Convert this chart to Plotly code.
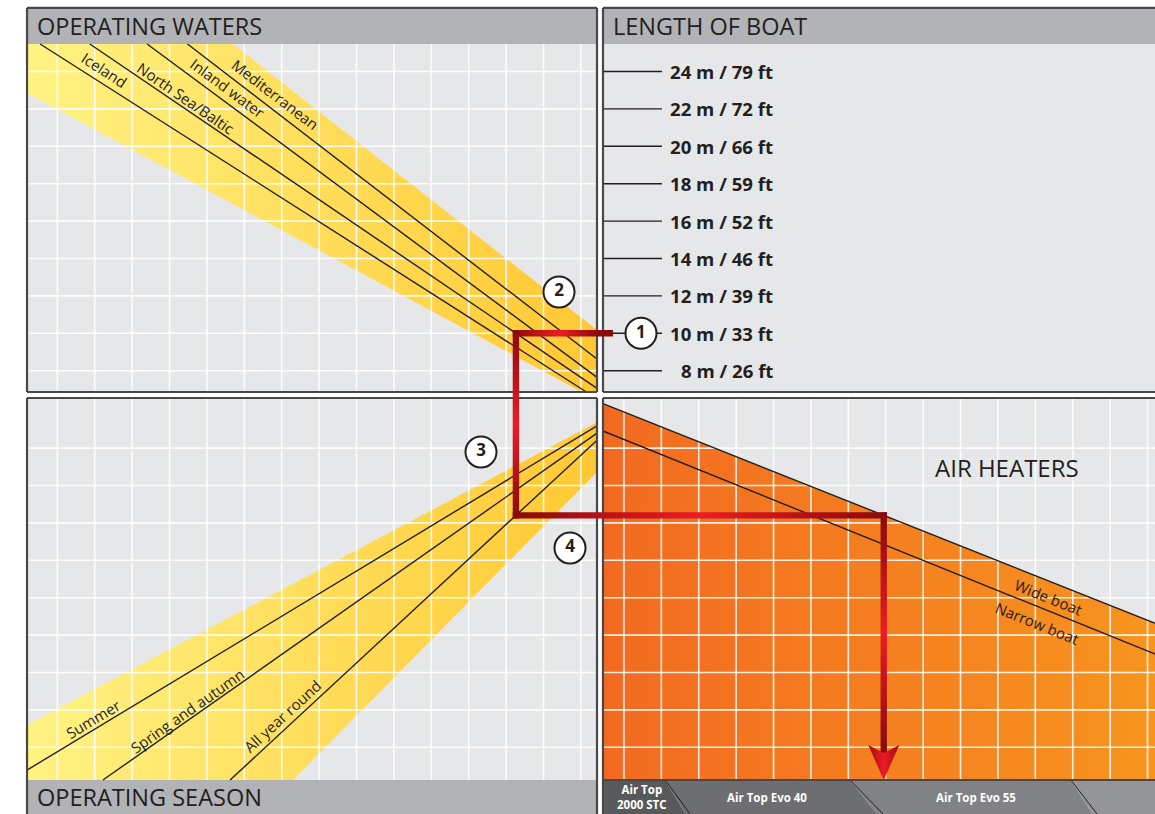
import plotly.graph_objects as go

# ---------------- data (in grid-cell units) ----------------
boat_length_m = [24, 22, 20, 18, 16, 14, 12, 10, 8]
boat_length_ft = [79, 72, 66, 59, 52, 46, 39, 33, 26]

water_names = ["Iceland", "North Sea/Baltic", "Inland water", "Mediterranean"]
water_top_x = [-14.97, -13.64, -12.11, -11.03]      # where each line leaves the top of the panel
water_slope = [-0.637, -0.679, -0.741, -0.769]

water_band_anchor_x = [-9.81, -15.32]               # upper edge, lower edge of the yellow band
water_band_anchor_y = [9.385, 8.075]
water_band_slope = [-0.786, -0.539]

season_names = ["Summer", "Spring and autumn", "All year round"]
season_bottom_x = [-15.76, -13.29, -9.89]           # where each line meets the bottom of the panel
season_slope = [0.604, 0.702, 0.926]

season_band_anchor_x = [-15.32, -8.21]
season_band_anchor_y = [-8.824, -10.294]
season_band_slope = [0.531, 1.013]

boat_type_names = ["Wide boat", "Narrow boat"]
boat_type_left_y = [-0.23, -0.963]
boat_type_slope = [-0.398, -0.404]

heater_names = ["Air Top<br>2000 STC", "Air Top Evo 40", "Air Top Evo 55", ""]
heater_edge_top = [1.74, 6.68, 12.59]
heater_edge_bottom = [2.41, 7.57, 13.29]

example_length = 10
example_water = "North Sea/Baltic"
example_season = "All year round"
example_boat = "Wide boat"

# ---------------- layout geometry / styles ----------------
PX = 37.4
XL0, XL1 = -15.32, -0.08
XR0, XR1 = 0.08, 15.3
YT, YH, YU0 = 10.35, 9.385, 0.08
YD0, YD1, YB = -0.08, -10.294, -11.5
X_RANGE = [-600 / PX, 555 / PX]
Y_RANGE = [-419 / PX, 395 / PX]

INK = "#231F20"
BORDER = "#48484A"
PANEL = "#E6E7E8"
HEADER = "#B1B3B6"
DARK_RED = "#870A0D"
BRIGHT_RED = "#EC1C24"
FONT = "Open Sans"
HEATER_LABEL_SHIFT = [2, -5, 1]   # px


def length_to_y(m):
    return 0.65 + (m - 8) / 2


def rect(x0, x1, y0, y1):
    return [(x0, y0), (x1, y0), (x1, y1), (x0, y1)]


def clip_half(poly, x0, y0, m, below):
    def f(p):
        v = y0 + m * (p[0] - x0) - p[1]
        return v if below else -v
    out = []
    n = len(poly)
    for i in range(n):
        P, Q = poly[i], poly[(i + 1) % n]
        fp, fq = f(P), f(Q)
        if fp >= 0:
            out.append(P)
        if (fp >= 0) != (fq >= 0):
            t = fp / (fp - fq)
            out.append((P[0] + t * (Q[0] - P[0]), P[1] + t * (Q[1] - P[1])))
    return out


def clip_line(x0, y0, m, xa, xb, ya, yb):
    pts = []
    for x in (xa, xb):
        y = y0 + m * (x - x0)
        if ya - 1e-9 <= y <= yb + 1e-9:
            pts.append((x, y))
    for y in (ya, yb):
        x = x0 + (y - y0) / m
        if xa - 1e-9 <= x <= xb + 1e-9:
            pts.append((x, y))
    pts.sort()
    return pts[0], pts[-1]


def poly_trace(poly, **kw):
    xs = [p[0] for p in poly] + [poly[0][0]]
    ys = [p[1] for p in poly] + [poly[0][1]]
    return go.Scatter(x=xs, y=ys, mode="lines", fill="toself", line=dict(width=0),
                      hoverinfo="skip", showlegend=False, **kw)


def seg_trace(segs, color, width, dash=None):
    xs, ys = [], []
    for (a, b) in segs:
        xs += [a[0], b[0], None]
        ys += [a[1], b[1], None]
    return go.Scatter(x=xs, y=ys, mode="lines", line=dict(color=color, width=width, dash=dash),
                      hoverinfo="skip", showlegend=False)


fig = go.Figure()
shapes = []
# panel backgrounds and header bands
for (x0, x1, y0, y1) in [(XL0, XL1, YU0, YT), (XR0, XR1, YU0, YT), (XL0, XL1, YB, YD0), (XR0, XR1, YB, YD0)]:
    shapes.append(dict(type="rect", x0=x0, x1=x1, y0=y0, y1=y1, fillcolor=PANEL, line=dict(width=0), layer="below"))
for (x0, x1, y0, y1) in [(XL0, XL1, YH, YT), (XR0, XR1, YH, YT), (XL0, XL1, YB, YD1)]:
    shapes.append(dict(type="rect", x0=x0, x1=x1, y0=y0, y1=y1, fillcolor=HEADER, line=dict(width=0), layer="below"))

# yellow bands
yellow_scale = [[0, "#FFF384"], [1, "#FFC832"]]
band = rect(XL0, XL1, YU0, YH)
band = clip_half(band, water_band_anchor_x[0], water_band_anchor_y[0], water_band_slope[0], True)
band = clip_half(band, water_band_anchor_x[1], water_band_anchor_y[1], water_band_slope[1], False)
fig.add_trace(poly_trace(band, fillcolor="#FFDD55",
                         fillgradient=dict(type="horizontal", colorscale=yellow_scale, start=XL0, stop=XL1)))
band = rect(XL0, XL1, YD1, YD0)
band = clip_half(band, season_band_anchor_x[0], season_band_anchor_y[0], season_band_slope[0], True)
band = clip_half(band, season_band_anchor_x[1], season_band_anchor_y[1], season_band_slope[1], False)
fig.add_trace(poly_trace(band, fillcolor="#FFDD55",
                         fillgradient=dict(type="horizontal", colorscale=yellow_scale, start=XL0, stop=XL1)))

# orange heater area (below the wide-boat line)
orange = clip_half(rect(XR0, XR1, YD1, YD0), XR0, boat_type_left_y[0], boat_type_slope[0], True)
fig.add_trace(poly_trace(orange, fillcolor="#F47F20",
                         fillgradient=dict(type="horizontal",
                                           colorscale=[[0, "#F26A21"], [1, "#F7941E"]],
                                           start=XR0, stop=X_RANGE[1])))

# grid lines
grid = []
for k in range(15):
    x = -0.51 - k
    grid.append(((x, YU0), (x, YH)))
    grid.append(((x, YD1), (x, YD0)))
    xr = 0.64 + k
    grid.append(((xr, YD1), (xr, YD0)))
for k in range(9):
    y = 0.65 + k
    grid.append(((XL0, y), (XL1, y)))
    yl = -1.42 - k
    grid.append(((XL0, yl), (XL1, yl)))
    grid.append(((XR0, yl), (XR1, yl)))
fig.add_trace(seg_trace(grid, "rgba(255,255,255,0.88)", 1.6))

# nomogram lines
lines = []
for tx, m in zip(water_top_x, water_slope):
    lines.append(clip_line(tx, YH, m, XL0, XL1, YU0, YH))
for bx, m in zip(season_bottom_x, season_slope):
    lines.append(clip_line(bx, YD1, m, XL0, XL1, YD1, YD0))
for ly, m in zip(boat_type_left_y, boat_type_slope):
    lines.append(clip_line(XR0, ly, m, XR0, XR1, YD1, YD0))
for L in boat_length_m:
    y = length_to_y(L)
    lines.append(((XR0, y), (XR0 + 59 / PX, y)))
fig.add_trace(seg_trace(lines, INK, 1.4))

# heater bar
edges_t = [XR0] + heater_edge_top + [XR1]
edges_b = [XR0] + heater_edge_bottom + [XR1]
bar_cols = ["#58595B", "#6D6E71", "#808285", "#949598"]
for i, name in enumerate(heater_names):
    poly = [(edges_t[i], YD1), (edges_t[i + 1], YD1), (edges_b[i + 1], Y_RANGE[0] - 0.2), (edges_b[i], Y_RANGE[0] - 0.2)]
    fig.add_trace(poly_trace(poly, fillcolor=bar_cols[i]))
sep = []
for t, b in zip(heater_edge_top, heater_edge_bottom):
    sep.append(((t, YD1), (b, Y_RANGE[0])))
fig.add_trace(seg_trace(sep, INK, 1.0))

# panel borders
borders = []
for (x0, x1, y0, y1) in [(XL0, XL1, YU0, YT), (XR0, XR1, YU0, YT), (XL0, XL1, YB, YD0), (XR0, XR1, YB, YD0)]:
    borders += [((x0, y0), (x1, y0)), ((x1, y0), (x1, y1)), ((x1, y1), (x0, y1)), ((x0, y1), (x0, y0))]
borders.append(((XR0, YD1), (XR1, YD1)))
fig.add_trace(seg_trace(borders, BORDER, 2.2))

# example path through the nomogram
wi = water_names.index(example_water)
si = season_names.index(example_season)
bi = boat_type_names.index(example_boat)
y1 = length_to_y(example_length)
x1 = water_top_x[wi] + (y1 - YH) / water_slope[wi]
y2 = YD1 + season_slope[si] * (x1 - season_bottom_x[si])
x3 = XR0 + (y2 - boat_type_left_y[bi]) / boat_type_slope[bi]
h = 3.2 / PX
stub_x = XR0 + 10 / PX
arrow_base = YD1 + 35 / PX
notch = YD1 + 27 / PX
hw = 15.5 / PX
sym = [[0, DARK_RED], [0.5, BRIGHT_RED], [1, DARK_RED]]

fig.add_trace(poly_trace(rect(x1 - h, stub_x, y1 - h, y1 + h), fillcolor=DARK_RED,
                         fillgradient=dict(type="horizontal",
                                           colorscale=[[0, DARK_RED], [0.47, BRIGHT_RED], [0.86, DARK_RED], [1, DARK_RED]])))
fig.add_trace(poly_trace(rect(x1 - h, x1 + h, y2 - h, y1 + h), fillcolor=DARK_RED,
                         fillgradient=dict(type="vertical", colorscale=sym)))
fig.add_trace(poly_trace(rect(x1 - h, x3 + h, y2 - h, y2 + h), fillcolor=DARK_RED,
                         fillgradient=dict(type="horizontal", colorscale=sym)))
fig.add_trace(poly_trace(rect(x3 - h, x3 + h, notch, y2 + h), fillcolor=DARK_RED,
                         fillgradient=dict(type="vertical", colorscale=sym)))
fig.add_trace(poly_trace([(x3 - hw, arrow_base), (x3, notch), (x3 + hw, arrow_base), (x3, YD1)],
                         fillcolor=BRIGHT_RED,
                         fillgradient=dict(type="horizontal",
                                           colorscale=[[0, "#A10C12"], [0.5, BRIGHT_RED], [1, "#A10C12"]])))

# step markers
step_x = [XR0 + 38 / PX, -41 / PX, -119 / PX, -30 / PX]
step_y = [y1, 103 / PX, -57 / PX, -153 / PX]
fig.add_trace(go.Scatter(x=step_x, y=step_y, mode="markers+text",
                         text=["<b>1</b>", "<b>2</b>", "<b>3</b>", "<b>4</b>"],
                         textposition="middle center",
                         textfont=dict(family=FONT, size=17, color=INK),
                         marker=dict(size=31, color="white", line=dict(color=INK, width=2)),
                         hoverinfo="skip", showlegend=False))

ann = []
# headers
for txt, x, y in [("OPERATING WATERS", XL0 + 9 / PX, YH + 18 / PX),
                  ("LENGTH OF BOAT", XR0 + 9 / PX, YH + 18 / PX),
                  ("OPERATING SEASON", XL0 + 9 / PX, YD1 - 17 / PX)]:
    ann.append(dict(x=x, y=y, text=txt, xanchor="left", yanchor="middle", showarrow=False,
                    borderpad=0, font=dict(family=FONT, size=23.5, color=INK)))
# boat length labels
for m_, ft in zip(boat_length_m, boat_length_ft):
    ann.append(dict(x=XR0 + 172 / PX, y=length_to_y(m_), text=f"<b>{m_} m / {ft} ft</b>",
                    xanchor="right", yanchor="middle", showarrow=False,
                    font=dict(family=FONT, size=18.6, color=INK)))
# line labels
label_pos = {
    "Iceland": (-13.25, 8.68, 33), "North Sea/Baltic": (-11.08, 7.94, 34.5),
    "Inland water": (-9.95, 8.22, 36.5), "Mediterranean": (-8.70, 8.04, 37.5),
    "Summer": (-13.56, -8.66, -31), "Spring and autumn": (-11.05, -8.44, -35),
    "All year round": (-8.50, -8.57, -42.5),
    "Wide boat": (11.98, -5.40, 21.7), "Narrow boat": (11.68, -6.10, 22),
}
for name in water_names + season_names + boat_type_names:
    x, y, a = label_pos[name]
    ann.append(dict(x=x, y=y, text=name, textangle=a, showarrow=False,
                    font=dict(family=FONT, size=15, color=INK)))
ann.append(dict(x=10.88, y=-1.95, text="AIR HEATERS", showarrow=False,
                font=dict(family=FONT, size=24, color=INK)))
# heater names
for i, name in enumerate(heater_names):
    if not name:
        continue
    cx = (edges_t[i] + edges_t[i + 1] + edges_b[i] + edges_b[i + 1]) / 4 + HEATER_LABEL_SHIFT[i] / PX
    ann.append(dict(x=cx, y=(YD1 + Y_RANGE[0]) / 2, text=f"<b>{name}</b>", showarrow=False,
                    borderpad=0, font=dict(family=FONT, size=11.5, color="white")))

fig.update_layout(
    width=1155, height=814, margin=dict(l=0, r=0, t=0, b=0),
    paper_bgcolor="white", plot_bgcolor="white",
    xaxis=dict(range=X_RANGE, visible=False, fixedrange=True),
    yaxis=dict(range=Y_RANGE, visible=False, fixedrange=True),
    shapes=shapes, annotations=ann, showlegend=False,
)
fig.write_html("out.html", config={"displayModeBar": False},
               post_script="document.body.style.margin='0';document.body.style.overflow='hidden';")
